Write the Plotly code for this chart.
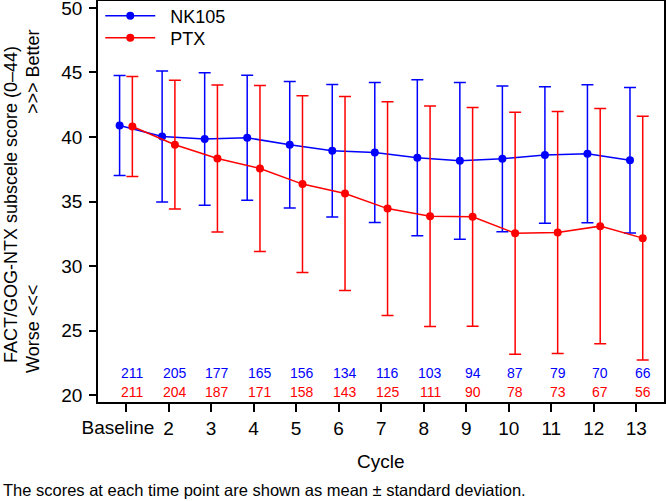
import plotly.graph_objects as go

cycles = [1, 2, 3, 4, 5, 6, 7, 8, 9, 10, 11, 12, 13]
tick_labels = ["", "2", "3", "4", "5", "6", "7", "8", "9", "10", "11", "12", "13"]
baseline_label = "Baseline"

nk105_mean = [40.89, 40.04, 39.84, 39.94, 39.40, 38.93, 38.80, 38.39, 38.15, 38.31, 38.60, 38.70, 38.20]
nk105_sd = [3.88, 5.08, 5.13, 4.85, 4.90, 5.14, 5.43, 6.04, 6.08, 5.65, 5.29, 5.35, 5.64]
ptx_mean = [40.81, 39.40, 38.33, 37.56, 36.35, 35.62, 34.45, 33.86, 33.81, 32.54, 32.59, 33.09, 32.16]
ptx_sd = [3.87, 4.99, 5.70, 6.44, 6.85, 7.52, 8.29, 8.54, 8.48, 9.37, 9.38, 9.12, 9.45]

nk105_n = [211, 205, 177, 165, 156, 134, 116, 103, 94, 87, 79, 70, 66]
ptx_n = [211, 204, 187, 171, 158, 143, 125, 111, 90, 78, 73, 67, 56]

BLUE = "#0000FF"
RED = "#FF0000"
FONT = "Liberation Sans, Arial, Helvetica, sans-serif"
off = 0.15
XRANGE = [0.342, 13.65]

W, H = 666, 501
L, R, T, B = 98, 2, 1, 99
pw, ph = W - L - R, H - T - B


def px_x(x):
    return (x - L) / pw


def px_y(y):
    return 1 - (y - T) / ph


fig = go.Figure()
fig.add_trace(go.Scatter(
    x=[c - off for c in cycles], y=nk105_mean, name="\u00a0\u00a0NK105",
    mode="lines+markers", legend="legend",
    line=dict(color=BLUE, width=1.5),
    marker=dict(color=BLUE, size=8),
    error_y=dict(type="data", array=nk105_sd, visible=True, color=BLUE, thickness=1.5, width=6),
))
fig.add_trace(go.Scatter(
    x=[c + off for c in cycles], y=ptx_mean, name="\u00a0\u00a0PTX",
    mode="lines+markers", legend="legend2",
    line=dict(color=RED, width=1.5),
    marker=dict(color=RED, size=8),
    error_y=dict(type="data", array=ptx_sd, visible=True, color=RED, thickness=1.5, width=6),
))
# invisible trace to activate the overlaid axis carrying the "Baseline" label
fig.add_trace(go.Scatter(x=[cycles[0]], y=[nk105_mean[0]], xaxis="x2", mode="markers",
                         marker=dict(opacity=0), showlegend=False, hoverinfo="skip"))

annotations = []
for c, n in zip(cycles, nk105_n):
    annotations.append(dict(x=c + off, y=21.7, xref="x", yref="y", text=str(n), showarrow=False,
                            xanchor="center", yanchor="middle",
                            font=dict(color=BLUE, size=14, family=FONT)))
for c, n in zip(cycles, ptx_n):
    annotations.append(dict(x=c + off, y=20.24, xref="x", yref="y", text=str(n), showarrow=False,
                            xanchor="center", yanchor="middle",
                            font=dict(color=RED, size=14, family=FONT)))

side = dict(xref="paper", yref="paper", showarrow=False, textangle=-90, xanchor="center", yanchor="middle",
            font=dict(size=18, family=FONT, color="black"))
annotations.append(dict(x=px_x(11), y=px_y(205), text="FACT/GOG-NTX subscele score (0\u201344)", **side))
annotations.append(dict(x=px_x(33), y=px_y(72), text="&gt;&gt;&gt; Better", **side))
annotations.append(dict(x=px_x(33), y=px_y(329), text="Worse &lt;&lt;&lt;", **side))
annotations.append(dict(x=px_x(381), y=px_y(461), xref="paper", yref="paper", text="Cycle",
                        showarrow=False, xanchor="center", yanchor="middle",
                        font=dict(size=19, family=FONT, color="black")))
annotations.append(dict(x=px_x(1), y=px_y(490), xref="paper", yref="paper",
                        text="The scores at each time point are shown as mean \u00b1 standard deviation.",
                        showarrow=False, xanchor="left", yanchor="middle",
                        font=dict(size=16.5, family=FONT, color="black")))

leg_common = dict(xanchor="left", yanchor="middle", bgcolor="rgba(0,0,0,0)",
                  font=dict(size=18, family=FONT, color="black"), itemwidth=50)

fig.update_layout(
    width=W, height=H,
    margin=dict(l=L, r=R, t=T, b=B, autoexpand=False),
    paper_bgcolor="white", plot_bgcolor="white",
    font=dict(family=FONT, size=18, color="black"),
    annotations=annotations,
    showlegend=True,
    hovermode=False,
    legend=dict(x=0.004, y=px_y(16), **leg_common),
    legend2=dict(x=0.004, y=px_y(38), **leg_common),
    xaxis=dict(range=XRANGE, tickvals=cycles, ticktext=tick_labels, tickangle=0,
               showline=True, mirror=True, linecolor="black", linewidth=1.5,
               ticks="outside", ticklen=8, tickwidth=1.5, tickcolor="black",
               showgrid=False, zeroline=False, automargin=False,
               tickfont=dict(size=19, family=FONT)),
    xaxis2=dict(range=XRANGE, overlaying="x", anchor="y", side="bottom",
                tickvals=[cycles[0]], ticktext=[baseline_label], tickangle=0,
                ticks="outside", ticklen=8, tickwidth=0, tickcolor="rgba(0,0,0,0)",
                ticklabelshift=-8, showline=False, showgrid=False, zeroline=False, automargin=False,
                tickfont=dict(size=19, family=FONT)),
    yaxis=dict(range=[19.46, 50.54], tickvals=[20, 25, 30, 35, 40, 45, 50], tickangle=0,
               showline=True, mirror=True, linecolor="black", linewidth=1.5,
               ticks="outside", ticklen=7, tickwidth=1.5, tickcolor="black",
               showgrid=False, zeroline=False, automargin=False, ticklabelstandoff=3,
               tickfont=dict(size=19, family=FONT)),
)

fig.write_html("out.html", config={"displayModeBar": False},
               post_script="document.body.style.margin='0';")
